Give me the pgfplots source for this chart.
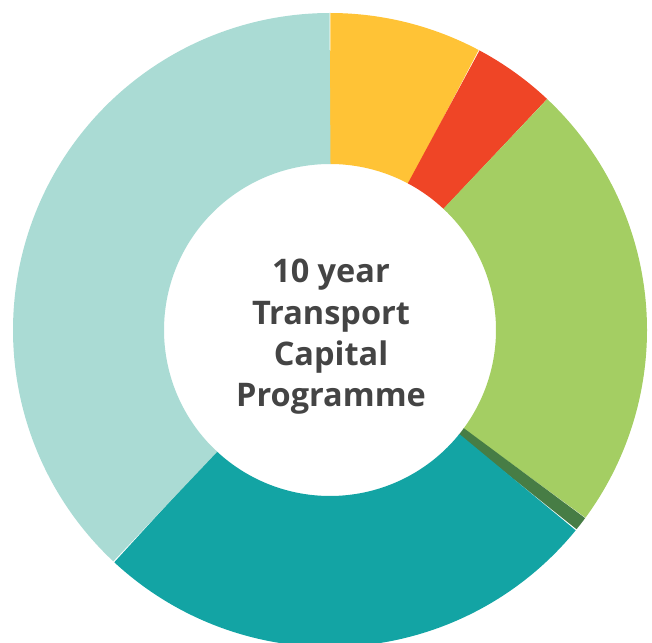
\documentclass[border=0pt]{standalone}
\usepackage{pgfplots}
\pgfplotsset{compat=1.18}
\usepackage{fontspec}
\setmainfont{Open Sans}
\definecolor{cYellow}{HTML}{FFC336}
\definecolor{cRed}{HTML}{EF4526}
\definecolor{cGreen}{HTML}{A4CE63}
\definecolor{cDark}{HTML}{477D45}
\definecolor{cTeal}{HTML}{13A4A4}
\definecolor{cLight}{HTML}{AADBD4}
\definecolor{cText}{HTML}{444444}
% slice shares in percent, clockwise from 12 o'clock
\def\vA{7.8}  % yellow
\def\vB{4.2}  % red
\def\vC{23.1} % light green
\def\vD{0.75} % dark green
\def\vE{26.1} % teal
\def\vF{38.05}% light teal
\pgfmathsetmacro\aA{90}
\pgfmathsetmacro\aB{\aA-3.6*\vA}
\pgfmathsetmacro\aC{\aB-3.6*\vB}
\pgfmathsetmacro\aD{\aC-3.6*\vC}
\pgfmathsetmacro\aE{\aD-3.6*\vD}
\pgfmathsetmacro\aF{\aE-3.6*\vE}
\pgfmathsetmacro\aG{\aF-3.6*\vF}
\begin{document}
\begin{tikzpicture}
\begin{axis}[
  width=652pt, height=642pt, scale only axis,
  xmin=0, xmax=652, ymin=0, ymax=642,
  hide axis, clip=true,
]
\addplot[draw=cYellow, line width=151pt, domain=\aB:\aA, samples=80, variable=\t] ({330+241.5*cos(\t)},{312+241.5*sin(\t)});
\addplot[draw=cRed, line width=151pt, domain=\aC:\aB, samples=60, variable=\t] ({330+241.5*cos(\t)},{312+241.5*sin(\t)});
\addplot[draw=cGreen, line width=151pt, domain=\aD:\aC, samples=160, variable=\t] ({330+241.5*cos(\t)},{312+241.5*sin(\t)});
\addplot[draw=cDark, line width=151pt, domain=\aE:\aD, samples=10, variable=\t] ({330+241.5*cos(\t)},{312+241.5*sin(\t)});
\addplot[draw=cTeal, line width=151pt, domain=\aF:\aE, samples=160, variable=\t] ({330+241.5*cos(\t)},{312+241.5*sin(\t)});
\addplot[draw=cLight, line width=151pt, domain=\aG:\aF, samples=200, variable=\t] ({330+241.5*cos(\t)},{312+241.5*sin(\t)});
\node[align=center, text=cText, font=\fontsize{32.5}{41.3}\selectfont\bfseries] at (axis cs:331,305) {10 year\\Transport\\Capital\\Programme};
\end{axis}
\pgfresetboundingbox
\path (current axis.south west) rectangle (current axis.north east);
\end{tikzpicture}
\end{document}
